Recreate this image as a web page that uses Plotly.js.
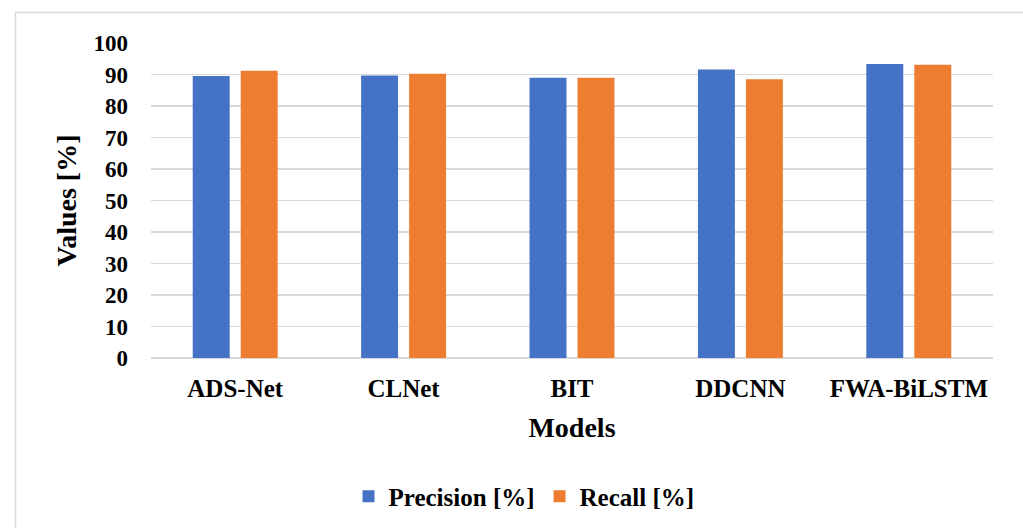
<!DOCTYPE html>
<html>
<head>
<meta charset="utf-8">
<script src="https://cdn.plot.ly/plotly-3.0.1.min.js"></script>
<style>html,body{margin:0;padding:0;background:#fff;}#chart{width:1023px;height:528px;}</style>
</head>
<body>
<div id="chart"></div>
<script>
const models = ["ADS-Net", "CLNet", "BIT", "DDCNN", "FWA-BiLSTM"];
const precision = [89.5, 89.7, 89.0, 91.6, 93.3];
const recall = [91.2, 90.2, 89.0, 88.5, 93.1];
const yTicks = [0, 10, 20, 30, 40, 50, 60, 70, 80, 90, 100];

const font = "Liberation Serif, Times New Roman, serif";
const traces = [
  {type: "bar", name: "Precision [%]", x: models, y: precision, marker: {color: "#4472C4"}},
  {type: "bar", name: "Recall [%]", x: models, y: recall, marker: {color: "#ED7D31"}}
];
const layout = {
  width: 1023, height: 528,
  margin: {l: 151, r: 30, t: 43, b: 170, autoexpand: false},
  paper_bgcolor: "#fff", plot_bgcolor: "#fff",
  font: {family: font, color: "#000", size: 18, weight: "bold"},
  barmode: "group", bargap: 0.43, bargroupgap: 0.23,
  showlegend: true,
  legend: {orientation: "h", x: 0.443, xanchor: "center", y: -0.44, yanchor: "middle",
           font: {family: font, size: 25, weight: "bold", color: "#000"}, itemwidth: 30},
  xaxis: {type: "category", showgrid: false, zeroline: false, showline: false, ticks: "", automargin: false,
          tickfont: {family: font, size: 25, weight: "bold"}, ticklabelstandoff: 13,
          title: {text: "Models", font: {family: font, size: 28, weight: "bold"}, standoff: 16}},
  yaxis: {range: [0, 100], tickvals: yTicks, ticktext: yTicks.map(String), showgrid: true, automargin: false,
          gridcolor: "#d9d9d9", gridwidth: 1.5, zeroline: true, zerolinecolor: "#d9d9d9", zerolinewidth: 1.5,
          showline: false, ticks: "", tickfont: {family: font, size: 23, weight: "bold"}, ticklabelstandoff: 22,
          title: {text: "Values [%]", font: {family: font, size: 28, weight: "bold"}, standoff: 8}},
  shapes: [{type: "rect", xref: "paper", yref: "paper",
            x0: (15.5 - 151) / 842, x1: (1040 - 151) / 842,
            y0: (358 - 540) / 315, y1: (358 - 12.5) / 315,
            line: {color: "#d9d9d9", width: 1.5}, fillcolor: "rgba(0,0,0,0)", layer: "below"}]
};
Plotly.newPlot("chart", traces, layout, {displayModeBar: false, staticPlot: true});
</script>
</body>
</html>
